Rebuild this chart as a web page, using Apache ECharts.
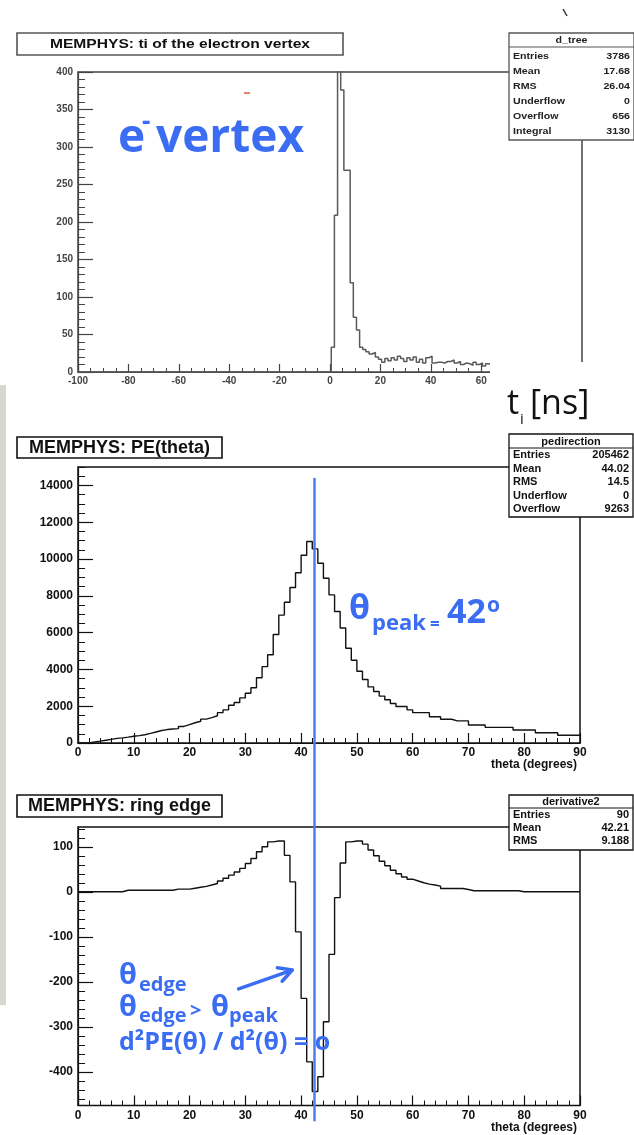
<!DOCTYPE html>
<html>
<head>
<meta charset="utf-8">
<script src="https://cdn.jsdelivr.net/npm/echarts@6.0.0/dist/echarts.min.js"></script>
<style>
  html, body { margin: 0; padding: 0; background: #fff; }
  #chart { width: 634px; height: 1135px; }
</style>
</head>
<body>
<div id="chart"></div>
<script>
// ---- values ----

// top: t_i of the electron vertex, 1.25 ns bins from 0.5 ns (peak bin runs off the top)
const tiBinStart = 0.5;
const tiBinWidth = 1.25;
const tiCounts = [33, 209, 560, 376, 269, 269, 119, 73, 56, 33,
    30, 27, 24, 26, 20, 17, 13, 18, 15, 19, 16, 21, 18, 14, 19, 16, 20, 13, 17, 12,
    19, 21, 12, 13, 13, 12, 14, 14, 16, 12, 14, 10, 12, 11, 9, 13, 10, 12, 8, 11, 10];
const tiTicks = [0, 50, 100, 150, 200, 250, 300, 350, 400];
const tiStats = [["Entries", "3786"], ["Mean", "17.68"], ["RMS", "26.04"],
    ["Underflow", "0"], ["Overflow", "656"], ["Integral", "3130"]];

// middle: PE(theta), 1 degree bins 0..90
const peCounts = [0, 0, 60, 100, 150, 200, 250, 280, 320, 370,
    400, 450, 520, 600, 680, 730, 760, 780, 900, 1000,
    1100, 1180, 1300, 1380, 1480, 1650, 1800, 2050, 2200, 2450,
    2700, 3000, 3550, 4150, 4800, 5900, 6950, 7650, 8450, 9250,
    10200, 10950, 10550, 9770, 8950, 8050, 7150, 6250, 5150, 4500,
    3900, 3450, 3050, 2800, 2550, 2350, 2150, 1980, 1980, 1800,
    1650, 1650, 1650, 1430, 1430, 1290, 1290, 1200, 1200, 1200,
    980, 980, 980, 850, 850, 850, 850, 850, 710, 710,
    710, 710, 560, 560, 560, 560, 420, 420, 420, 420];
const peTicks = [0, 2000, 4000, 6000, 8000, 10000, 12000, 14000];
const peStats = [["Entries", "205462"], ["Mean", "44.02"], ["RMS", "14.5"],
    ["Underflow", "0"], ["Overflow", "9263"]];

// bottom: ring edge (second derivative), 1 degree bins 0..90
const edgeCounts = [0, 0, 0, 0, 0, 0, 0, 0, 3.5, 3.5,
    3.5, 3.5, 3.5, 3.5, 3.5, 3.5, 3.5, 6, 6, 6,
    8, 10, 12, 15, 18.5, 24, 30, 37, 44, 52,
    63, 74, 89, 100, 111, 113, 113, 81, 22, -89,
    -237, -378, -444, -411, -289, -139, -13, 64, 111, 113,
    113, 106, 93, 80, 68, 58, 48, 40, 33, 28,
    24, 20, 17, 15, 12.6, 7.4, 7.4, 7.4, 7.4, 5,
    2.3, 2.3, 2.3, 2.3, 2.3, 2.3, 2.3, 2.3, 2.3, 0,
    0, 0, 0, 0, 0, 0, 0, 0, 0, 0];
const edgeTicks = [-400, -300, -200, -100, 0, 100];
const edgeStats = [["Entries", "90"], ["Mean", "42.21"], ["RMS", "9.188"]];

const thetaLine = 42.4;               // where the blue marker sits
const arrowFrom = [28.8, -216];       // annotation arrow, in (theta, value)
const arrowTo = [38.4, -174];

// ---- helpers ----
const SANS = '"Liberation Sans", Arial, sans-serif';
const OPEN = '"Open Sans", sans-serif';
const BLUE = '#3b6df3';
const plain = v => String(v);   // no thousands separators, like ROOT

function range(a, b, s) {
    const r = [];
    for (let v = a; v <= b + 1e-9; v += s) r.push(Math.round(v * 100) / 100);
    return r;
}

// histogram outline: left edge of each bin, plus the right edge of the last one
function histLine(start, width, counts) {
    const pts = counts.map((c, i) => [start + i * width, c]);
    pts.push([start + counts.length * width, counts[counts.length - 1]]);
    return pts;
}

function yAxes(grid, min, max, major, minor, majorLen, lab, color) {
    return [
        { type: "value", gridIndex: grid, min: min, max: max, position: "left",
          axisLine: { show: true, onZero: false, lineStyle: { color: color, width: 1.2 } },
          axisTick: { show: true, inside: true, length: majorLen, customValues: major, lineStyle: { color: color, width: 1.2 } },
          axisLabel: Object.assign({ customValues: major, margin: 5, formatter: plain }, lab),
          splitLine: { show: false } },
        { type: "value", gridIndex: grid, min: min, max: max, position: "left",
          axisLine: { show: false, onZero: false },
          axisTick: { show: true, inside: true, length: 7, customValues: minor, lineStyle: { color: color, width: 1 } },
          axisLabel: { show: false },
          splitLine: { show: false } }
    ];
}

function xAxis(grid, min, max, interval, split, lab, color, name) {
    const ax = {
        type: "value", gridIndex: grid, min: min, max: max, interval: interval,
        axisLine: { show: true, onZero: false, lineStyle: { color: color, width: 1.2 } },
        axisTick: { show: true, inside: true, length: grid === 0 ? 8 : 10, lineStyle: { color: color, width: 1.2 } },
        minorTick: { show: true, splitNumber: split, length: grid === 0 ? 4 : 5, lineStyle: { color: color, width: 1 } },
        axisLabel: Object.assign({ margin: 4, formatter: plain }, lab),
        splitLine: { show: false }, minorSplitLine: { show: false }
    };
    if (name) {
        ax.name = name;
        ax.nameLocation = "end";
        ax.nameGap = 0;
        ax.nameTextStyle = { fontFamily: SANS, fontWeight: "bold", fontSize: 12, color: "#111",
            align: "right", verticalAlign: "top", padding: [16, 3, 0, 0] };
    }
    return ax;
}

function txt(x, y, str, font, fill, align, scaleX) {
    return { type: "text", x: x, y: y, z: 62, scaleX: scaleX || 1,
        style: { text: str, font: font, fill: fill, align: align || "left", verticalAlign: "middle" } };
}

// annotation text placed by baseline (Open Sans bold)
function blue(x, base, str, size, weight) {
    return txt(x, base - 0.388 * size, str, (weight || "bold") + " " + size + "px " + OPEN, BLUE, "left");
}

function statsBox(x, y, w, h, title, rows, o) {
    const els = [
        { type: "rect", z: 55, shape: { x: x, y: y, width: w, height: h },
          style: { fill: "#fff", stroke: o.stroke, lineWidth: 1.3 } },
        { type: "line", z: 56, shape: { x1: x, y1: y + o.headH, x2: x + w, y2: y + o.headH },
          style: { stroke: o.stroke, lineWidth: 1 } },
        txt(x + w / 2, y + o.headH / 2 + 0.5, title, o.font, o.color, "center", o.scaleX)
    ];
    rows.forEach((r, i) => {
        const ry = o.rowTop + i * o.rowH;
        els.push(txt(x + 4, ry, r[0], o.font, o.color, "left", o.scaleX));
        els.push(txt(x + w - 4, ry, r[1], o.font, o.color, "right", o.scaleX));
    });
    return els;
}

function titleBox(x, y, w, h, str, font, stroke, scaleX) {
    return [
        { type: "rect", z: 55, shape: { x: x, y: y, width: w, height: h },
          style: { fill: "#fff", stroke: stroke, lineWidth: 1.6 } },
        txt(x + w / 2, y + h / 2 + 0.5, str, font, "#111", "center", scaleX)
    ];
}

// ---- chart ----
const labTop = { fontFamily: SANS, fontWeight: "bold", fontSize: 10, color: "#444" };
const labLow = { fontFamily: SANS, fontWeight: "bold", fontSize: 12, color: "#111" };

const chart = echarts.init(document.getElementById("chart"), null, { renderer: "canvas" });

const tiData = [[-100, 0]].concat(histLine(tiBinStart, tiBinWidth, tiCounts));
const peData = histLine(0, 1, peCounts);
const edgeData = histLine(0, 1, edgeCounts);

chart.setOption({
    animation: false,
    backgroundColor: "#fff",
    grid: [
        { left: 78, top: 72, width: 504, height: 300, show: true, borderColor: "#444", borderWidth: 1.5, outerBoundsMode: "none" },
        { left: 78, top: 467, width: 502, height: 276, show: true, borderColor: "#111", borderWidth: 1.5, outerBoundsMode: "none" },
        { left: 78, top: 827, width: 502, height: 278.5, show: true, borderColor: "#111", borderWidth: 1.5, outerBoundsMode: "none" }
    ],
    xAxis: [
        xAxis(0, -100, 100, 20, 4, labTop, "#444"),
        xAxis(1, 0, 90, 10, 5, labLow, "#111", "theta (degrees)"),
        xAxis(2, 0, 90, 10, 5, labLow, "#111", "theta (degrees)")
    ],
    yAxis: [].concat(
        yAxes(0, 0, 400, tiTicks, range(0, 400, 10), 15, labTop, "#444"),
        yAxes(1, 0, 15000, peTicks, range(0, 15000, 500), 15, labLow, "#111"),
        yAxes(2, -475, 144, edgeTicks, range(-460, 140, 20), 15, labLow, "#111")
    ),
    series: [
        { type: "line", xAxisIndex: 0, yAxisIndex: 0, data: tiData, step: "end", symbol: "none",
          lineStyle: { color: "#5a5a5a", width: 1.5 }, silent: true },
        { type: "line", xAxisIndex: 1, yAxisIndex: 2, data: peData, step: "end", symbol: "none",
          lineStyle: { color: "#111", width: 1.4 }, silent: true },
        { type: "line", xAxisIndex: 2, yAxisIndex: 4, data: edgeData, step: "end", symbol: "none",
          lineStyle: { color: "#111", width: 1.4 }, silent: true }
    ]
});

// overlays that depend on the axes: marker line and arrow
const lineX = chart.convertToPixel({ xAxisIndex: 1 }, thetaLine);
const lineTop = chart.convertToPixel({ yAxisIndex: 2 }, 14400);
const lineBot = chart.convertToPixel({ yAxisIndex: 4 }, -510);
const a0 = chart.convertToPixel({ gridIndex: 2 }, arrowFrom);
const a1 = chart.convertToPixel({ gridIndex: 2 }, arrowTo);
const ang = Math.atan2(a1[1] - a0[1], a1[0] - a0[0]);
const wing = 15;
const w1 = [a1[0] - wing * Math.cos(ang - 0.5), a1[1] - wing * Math.sin(ang - 0.5)];
const w2 = [a1[0] - wing * Math.cos(ang + 0.5), a1[1] - wing * Math.sin(ang + 0.5)];

const graphics = [].concat(
    // left slide edge
    [{ type: "rect", z: 50, shape: { x: 0, y: 385, width: 6, height: 620 }, style: { fill: "#d6d8ce" } }],
    // small marks on the scan
    [{ type: "rect", z: 50, shape: { x: 244, y: 92, width: 6, height: 2 }, style: { fill: "#e8826a" } },
     { type: "line", z: 50, shape: { x1: 563, y1: 9, x2: 567, y2: 16 }, style: { stroke: "#333", lineWidth: 1.5 } }],
    // patch hiding the end of the top axis
    [{ type: "rect", z: 55, shape: { x: 490, y: 362, width: 144, height: 68 }, style: { fill: "#fff" } }],
    titleBox(17, 33, 326, 22, "MEMPHYS: ti of the electron vertex", "bold 12px " + SANS, "#555", 1.3),
    titleBox(17, 437, 205, 21, "MEMPHYS: PE(theta)", "bold 18px " + SANS, "#111"),
    titleBox(17, 795, 205, 22, "MEMPHYS: ring edge", "bold 18px " + SANS, "#111"),
    statsBox(509, 33, 125, 107, "d_tree", tiStats,
        { headH: 14, rowTop: 57, rowH: 15, font: "bold 8.5px " + SANS, color: "#222", stroke: "#555", scaleX: 1.25 }),
    statsBox(509, 434, 124, 83, "pedirection", peStats,
        { headH: 14, rowTop: 455, rowH: 13.5, font: "bold 11px " + SANS, color: "#111", stroke: "#111" }),
    statsBox(509, 795, 124, 55, "derivative2", edgeStats,
        { headH: 13, rowTop: 815, rowH: 13, font: "bold 11px " + SANS, color: "#111", stroke: "#111" }),
    // blue marker line
    [{ type: "line", z: 60, shape: { x1: lineX, y1: lineTop, x2: lineX, y2: lineBot },
       style: { stroke: "#4a7ff0", lineWidth: 2.5 } }],
    // e- vertex
    [blue(118, 157, "e", 46), blue(142, 133, "-", 26), blue(156, 157, "vertex", 46)],
    // t_i [ns]
    [txt(507, 418 - 0.388 * 34, "t", "34px " + OPEN, "#111"),
     txt(520, 426 - 0.388 * 15, "i", "15px " + OPEN, "#111"),
     txt(530, 418 - 0.388 * 34, "[ns]", "34px " + OPEN, "#111")],
    // theta_peak = 42 deg
    [blue(349, 623, "\u03b8", 34), blue(372, 632, "peak", 22), blue(430, 632, "=", 17),
     blue(447, 627, "42", 34), blue(487, 614, "o", 21)],
    // theta_edge annotation
    [blue(119, 987, "\u03b8", 29), blue(139, 993, "edge", 20),
     blue(119, 1019, "\u03b8", 29), blue(139, 1024, "edge", 20), blue(190, 1019, ">", 20),
     blue(211, 1019, "\u03b8", 29), blue(229, 1024, "peak", 20),
     blue(119, 1053, "d\u00b2PE(\u03b8) / d\u00b2(\u03b8) = o", 25)],
    [{ type: "polyline", z: 62, shape: { points: [a0, a1] }, style: { stroke: BLUE, lineWidth: 3.5, lineCap: "round" } },
     { type: "polyline", z: 62, shape: { points: [w1, a1, w2] }, style: { stroke: BLUE, lineWidth: 3.5, lineCap: "round", lineJoin: "round", fill: null } }]
);

chart.setOption({ graphic: graphics });
</script>
</body>
</html>
